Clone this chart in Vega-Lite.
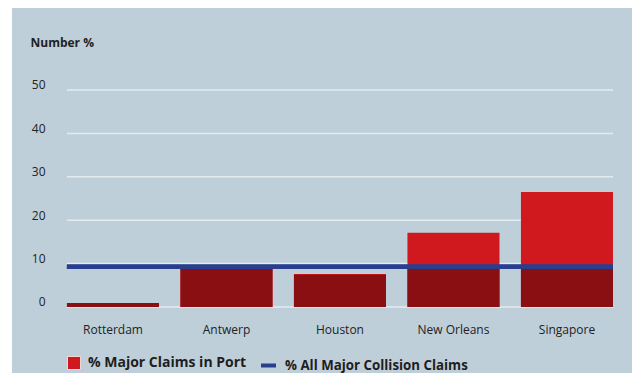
{
  "$schema": "https://vega.github.io/schema/vega-lite/v6.json",
  "width": 620,
  "height": 365,
  "padding": {"left": 12, "top": 8, "right": 0, "bottom": 0},
  "autosize": {"type": "none"},
  "background": "#ffffff",
  "config": {
    "font": "Open Sans",
    "view": {"fill": "#bfcfd9", "stroke": null}
  },
  "datasets": {
    "ports": [
      {"port": "Rotterdam", "value": 0.9, "base": 0.9},
      {"port": "Antwerp", "value": 9.0, "base": 9.0},
      {"port": "Houston", "value": 7.6, "base": 7.4},
      {"port": "New Orleans", "value": 17.1, "base": 9.0},
      {"port": "Singapore", "value": 26.5, "base": 9.0}
    ],
    "grid": [
      {"tick": 0}, {"tick": 10}, {"tick": 20}, {"tick": 30}, {"tick": 40}, {"tick": 50}
    ]
  },
  "layer": [
    {
      "data": {"name": "grid"},
      "mark": {"type": "rule", "color": "#e4ebef", "strokeWidth": 1.5},
      "encoding": {
        "y": {"field": "tick", "type": "quantitative", "scale": {"domain": [-15.21, 68.89], "nice": false, "zero": false},
          "axis": {"orient": "left", "offset": -33, "values": [0, 10, 20, 30, 40, 50], "grid": false, "domain": false, "ticks": false, "tickSize": 0, "labelPadding": 0, "labelFontSize": 12, "labelColor": "#222222", "labelBaseline": "alphabetic", "labelOffset": -1,
            "title": "Number %", "titleAngle": 0, "titleAlign": "left", "titleBaseline": "alphabetic", "titleX": -15, "titleY": 38.7, "titleFontSize": 12, "titleFontWeight": "bold", "titleColor": "#222222"}},
        "x": {"datum": "Rotterdam", "type": "nominal", "bandPosition": 0,
          "scale": {"domain": ["Rotterdam", "Antwerp", "Houston", "New Orleans", "Singapore"], "paddingInner": 0.189, "paddingOuter": 0.3258, "align": 0.743},
          "axis": {"orient": "bottom", "offset": -66, "title": null, "domain": false, "ticks": false, "tickSize": 0, "labelPadding": 26, "labelBaseline": "alphabetic", "labelAngle": 0, "labelFontSize": 12, "labelColor": "#222222", "grid": false}},
        "x2": {"datum": "Singapore", "bandPosition": 1}
      }
    },
    {
      "data": {"name": "ports"},
      "mark": {"type": "bar"},
      "encoding": {
        "x": {"field": "port", "type": "nominal"},
        "y": {"field": "value", "type": "quantitative"},
        "y2": {"datum": 0},
        "fill": {"datum": "% Major Claims in Port", "type": "nominal",
          "scale": {"range": ["#d0181f"]},
          "legend": {"orient": "none", "legendX": 55, "legendY": 348, "title": null, "padding": 0, "symbolType": "square", "symbolSize": 169, "symbolStrokeColor": "#f2d6d6", "symbolStrokeWidth": 1, "labelFont": "Open Sans", "labelFontWeight": "bold", "labelFontSize": 14, "labelColor": "#1e1e1e", "labelOffset": 7, "labelLimit": 300}}
      }
    },
    {
      "data": {"name": "ports"},
      "mark": {"type": "bar", "color": "#8a0f13"},
      "encoding": {
        "x": {"field": "port", "type": "nominal"},
        "y": {"field": "base", "type": "quantitative"},
        "y2": {"datum": 0}
      }
    },
    {
      "data": {"name": "ports"},
      "mark": {"type": "rule", "strokeWidth": 4},
      "encoding": {
        "y": {"datum": 9.26, "type": "quantitative"},
        "x": {"datum": "Rotterdam", "type": "nominal", "bandPosition": 0},
        "x2": {"datum": "Singapore", "bandPosition": 1},
        "stroke": {"datum": "% All Major Collision Claims", "type": "nominal",
          "scale": {"range": ["#283f8e"]},
          "legend": {"orient": "none", "legendX": 247, "legendY": 348, "title": null, "padding": 0, "symbolType": "stroke", "symbolSize": 225, "symbolStrokeWidth": 4, "labelFont": "Open Sans", "labelFontWeight": "bold", "labelFontSize": 13.3, "labelColor": "#1e1e1e", "labelOffset": 7, "labelLimit": 300}}
      }
    }
  ]
}
